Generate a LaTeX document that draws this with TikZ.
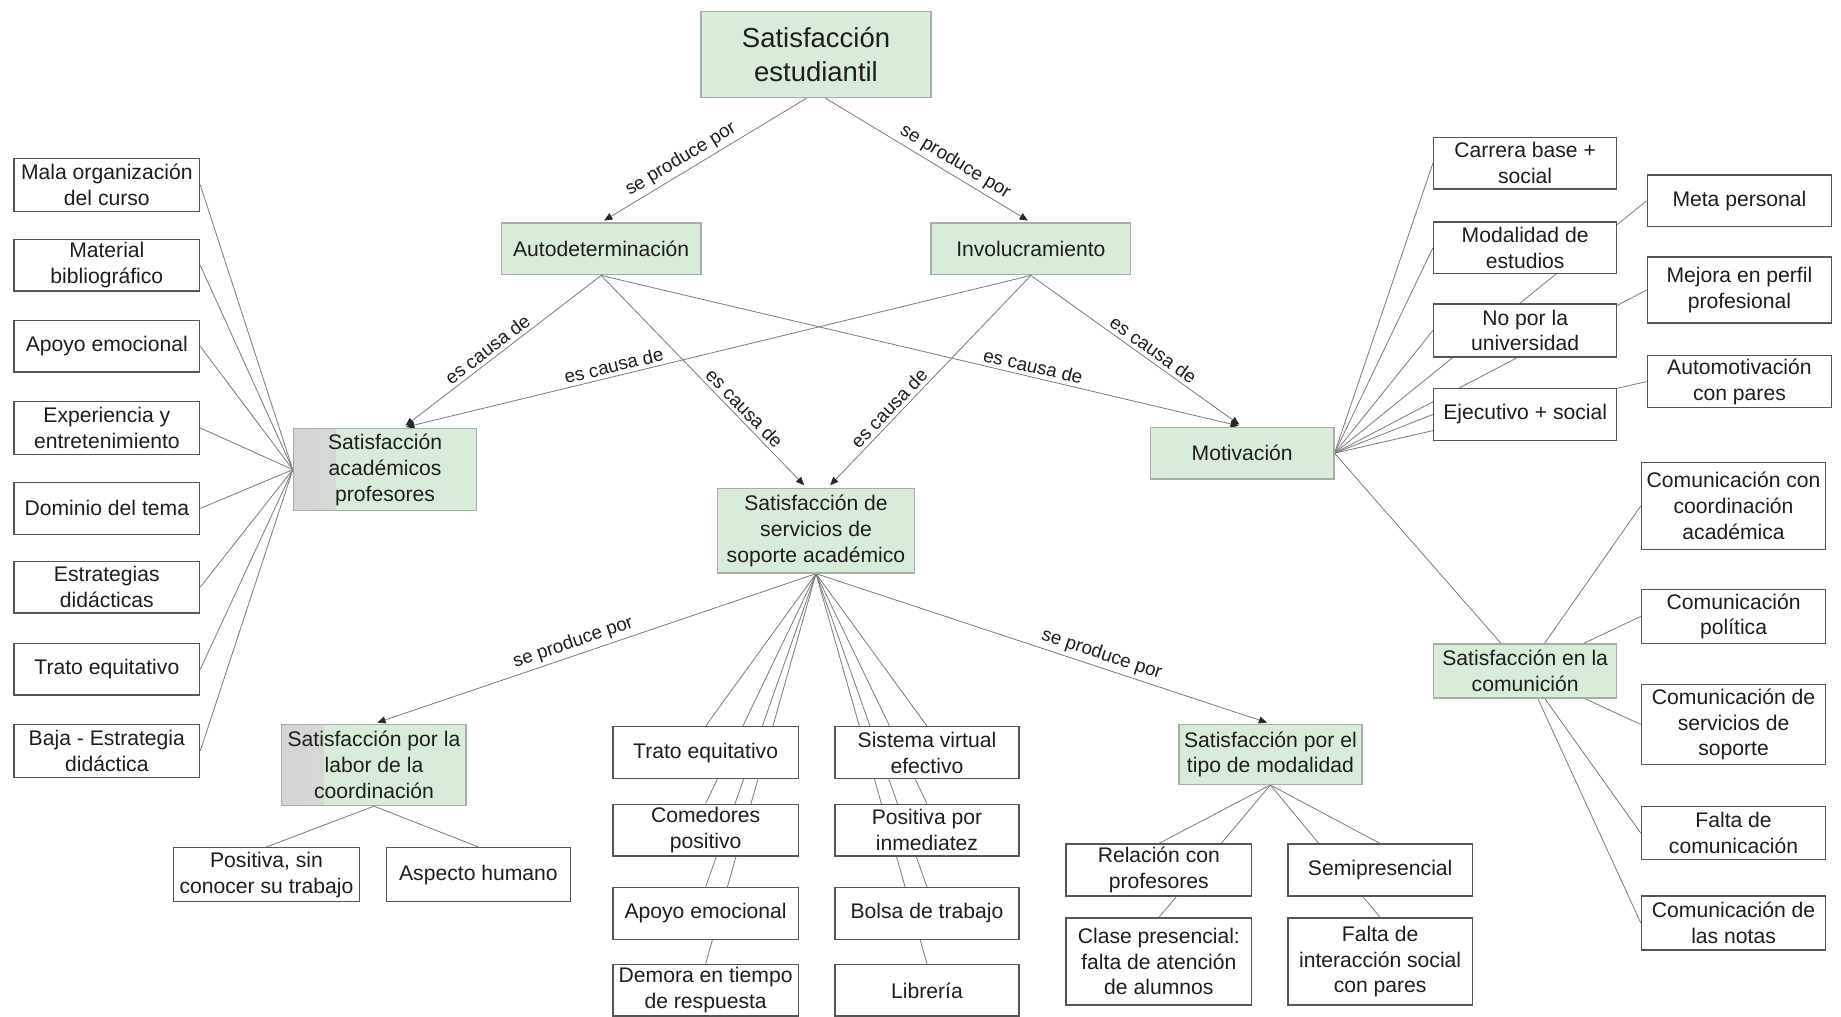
\documentclass[tikz,border=0pt]{standalone}
\usepackage{fontspec}
\setmainfont{Liberation Sans}
\usetikzlibrary{arrows.meta,backgrounds}
\definecolor{gfill}{RGB}{217,236,217}
\definecolor{gborder}{RGB}{165,175,165}
\definecolor{wborder}{RGB}{85,85,85}
\definecolor{lgray}{RGB}{125,125,125}
\definecolor{tipgray}{RGB}{40,40,40}
\definecolor{txt}{RGB}{30,30,30}
\definecolor{gstrip}{RGB}{212,212,212}

\begin{document}
\begin{tikzpicture}[x=0.5pt,y=-0.5pt,
  base/.style={align=center, inner sep=1pt, text=txt, font=\fontsize{9}{11}\selectfont},
  wbox/.style={base, draw=wborder, fill=white, line width=0.6pt},
  gbox/.style={base, draw=gborder, fill=gfill, line width=0.6pt},
  gsbox/.style={gbox, path picture={\shade[left color=gstrip,right color=gfill]
      (path picture bounding box.south west) rectangle ([xshift=18pt]path picture bounding box.north west);}},
  sz/.style 2 args={minimum width=#1*0.5pt, minimum height=#2*0.5pt},
  conn/.style={draw=lgray, line width=0.35pt},
  arr/.style={conn, -{Triangle[length=3.5pt,width=3pt,color=tipgray]}, shorten >=1.5pt},
  lbl/.style={font=\fontsize{8}{9}\selectfont, text=txt, sloped, above, inner sep=1.5pt}]

\useasboundingbox (0,0) rectangle (1568,866);

% main concepts
\node[gbox, sz={196}{73}, font=\fontsize{11.7}{14.5}\selectfont] (top) at (695,46.5) {Satisfacción\\estudiantil};
\node[gbox, sz={170}{44}] (auto) at (512,212) {Autodeterminación};
\node[gbox, sz={170}{44}] (inv) at (878,212) {Involucramiento};
\node[gsbox, sz={156}{70}] (acad) at (328,400) {Satisfacción\\académicos\\profesores};
\node[gbox, sz={168}{72}] (serv) at (695,452) {Satisfacción de\\servicios de\\soporte académico};
\node[gbox, sz={156}{44}] (motiv) at (1058,386) {Motivación};
\node[gbox, sz={156}{46}] (com) at (1299,571.5) {Satisfacción en la\\comunición};
\node[gsbox, sz={157}{69}] (labor) at (318.5,651.5) {Satisfacción por la\\labor de la\\coordinación};
\node[gbox, sz={156}{51}] (tipo) at (1082,642.5) {Satisfacción por el\\tipo de modalidad};

% left column
\node[wbox, sz={158}{45}] (L1) at (91,157.5) {Mala organización\\del curso};
\node[wbox, sz={158}{44}] (L2) at (91,226) {Material\\bibliográfico};
\node[wbox, sz={158}{44}] (L3) at (91,295) {Apoyo emocional};
\node[wbox, sz={158}{45}] (L4) at (91,364.5) {Experiencia y\\entretenimiento};
\node[wbox, sz={158}{44}] (L5) at (91,433) {Dominio del tema};
\node[wbox, sz={158}{44}] (L6) at (91,500) {Estrategias\\didácticas};
\node[wbox, sz={158}{44}] (L7) at (91,570) {Trato equitativo};
\node[wbox, sz={158}{45}] (L8) at (91,639.5) {Baja - Estrategia\\didáctica};

% motivation branches
\node[wbox, sz={156}{44}] (R1) at (1299,139) {Carrera base +\\social};
\node[wbox, sz={156}{44}] (R2) at (1299,211) {Modalidad de\\estudios};
\node[wbox, sz={156}{45}] (R3) at (1299,281.5) {No por la\\universidad};
\node[wbox, sz={156}{44}] (R4) at (1299,353) {Ejecutivo + social};
\node[wbox, sz={157}{44}] (M1) at (1481.5,171) {Meta personal};
\node[wbox, sz={157}{56}] (M2) at (1481.5,247) {Mejora en perfil\\profesional};
\node[wbox, sz={157}{44}] (M3) at (1481.5,325) {Automotivación\\con pares};

% communication branches
\node[wbox, sz={157}{74}] (C1) at (1476.5,431) {Comunicación con\\coordinación\\académica};
\node[wbox, sz={157}{46}] (C2) at (1476.5,525) {Comunicación\\política};
\node[wbox, sz={157}{68}] (C3) at (1476.5,617) {Comunicación de\\servicios de\\soporte};
\node[wbox, sz={157}{45}] (C4) at (1476.5,709.5) {Falta de\\comunicación};
\node[wbox, sz={157}{46}] (C5) at (1476.5,786) {Comunicación de\\las notas};

% coordination branches
\node[wbox, sz={158}{46}] (P1) at (227,745) {Positiva, sin\\conocer su trabajo};
\node[wbox, sz={157}{46}] (P2) at (407.5,745) {Aspecto humano};

% support services branches
\node[wbox, sz={158}{44}] (A1) at (601,641) {Trato equitativo};
\node[wbox, sz={158}{44}] (A2) at (601,707) {Comedores\\positivo};
\node[wbox, sz={158}{44}] (A3) at (601,778) {Apoyo emocional};
\node[wbox, sz={158}{44}] (A4) at (601,843.5) {Demora en tiempo\\de respuesta};
\node[wbox, sz={157}{44}] (B1) at (789.5,641) {Sistema virtual\\efectivo};
\node[wbox, sz={157}{44}] (B2) at (789.5,707) {Positiva por\\inmediatez};
\node[wbox, sz={157}{44}] (B3) at (789.5,778) {Bolsa de trabajo};
\node[wbox, sz={157}{44}] (B4) at (789.5,843.5) {Librería};

% modality branches
\node[wbox, sz={158}{44}] (T1) at (987,741) {Relación con\\profesores};
\node[wbox, sz={157}{44}] (T2) at (1175.5,741) {Semipresencial};
\node[wbox, sz={158}{74}] (T3) at (987,819) {Clase presencial:\\falta de atención\\de alumnos};
\node[wbox, sz={157}{74}] (T4) at (1175.5,819) {Falta de\\interacción social\\con pares};

\begin{scope}[on background layer]
  \fill[white] (0,0) rectangle (1568,866);

  % labelled relations
  \draw[arr] ([xshift=-4pt]top.south) -- node[lbl,pos=0.58]{se produce por} (auto.north);
  \draw[arr] ([xshift=4pt]top.south) -- node[lbl,pos=0.6]{se produce por} (inv.north);
  \draw[arr] (auto.south) -- node[lbl,pos=0.54]{es causa de} ([xshift=7.5pt]acad.north);
  \draw[arr] (auto.south) -- node[lbl,pos=0.66]{es causa de} ([xshift=-4pt]serv.north);
  \draw[arr] (auto.south) -- node[lbl,pos=0.67]{es causa de} (motiv.north);
  \draw[arr] (inv.south) -- node[lbl,pos=0.66]{es causa de} ([xshift=7.5pt]acad.north);
  \draw[arr] (inv.south) -- node[lbl,pos=0.66]{es causa de} ([xshift=5pt]serv.north);
  \draw[arr] (inv.south) -- node[lbl,pos=0.55]{es causa de} (motiv.north);
  \draw[arr] (serv.south) -- node[lbl,pos=0.54]{se produce por} (labor.north);
  \draw[arr] (serv.south) -- node[lbl,pos=0.62]{se produce por} (tipo.north);

  % plain links
  \foreach \n in {L1,L2,L3,L4,L5,L6,L7,L8} \draw[conn] (acad.west) -- (\n.east);
  \foreach \n in {R1,R2,R3,R4,M1,M2,M3} \draw[conn] (motiv.east) -- (\n.west);
  \draw[conn] (motiv.east) -- (com.center);
  \foreach \n in {C1,C2,C3,C4,C5} \draw[conn] (com.center) -- (\n.west);
  \foreach \n in {P1,P2} \draw[conn] (labor.south) -- (\n.north);
  \foreach \n in {A1,A2,A3,A4,B1,B2,B3,B4} \draw[conn] (serv.south) -- (\n.north);
  \foreach \n in {T1,T2,T3,T4} \draw[conn] (tipo.south) -- (\n.north);
\end{scope}
\end{tikzpicture}
\end{document}
